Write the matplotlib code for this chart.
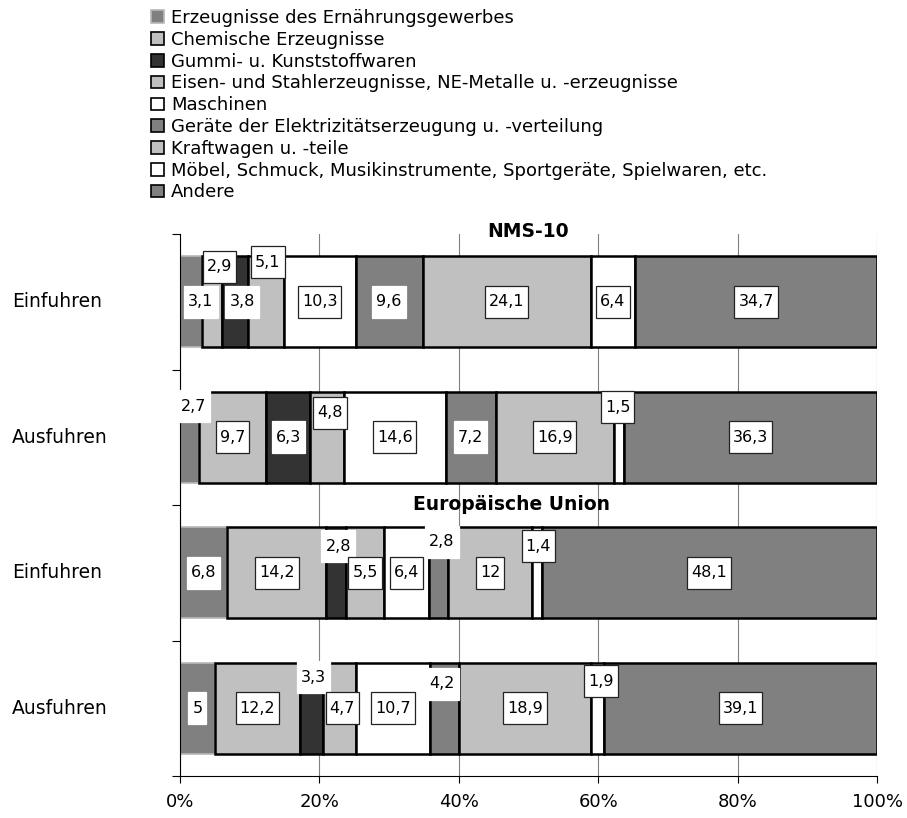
import matplotlib
matplotlib.use('Agg')
import matplotlib.pyplot as plt
import matplotlib.transforms as mtransforms
from matplotlib.patches import Patch, Rectangle
import numpy as np

# Series (product groups), shares in % per row
series_names = [
    'Erzeugnisse des Ernährungsgewerbes',
    'Chemische Erzeugnisse',
    'Gummi- u. Kunststoffwaren',
    'Eisen- und Stahlerzeugnisse, NE-Metalle u. -erzeugnisse',
    'Maschinen',
    'Geräte der Elektrizitätserzeugung u. -verteilung',
    'Kraftwagen u. -teile',
    'Möbel, Schmuck, Musikinstrumente, Sportgeräte, Spielwaren, etc.',
    'Andere',
]
row_labels = ['Einfuhren', 'Ausfuhren', 'Einfuhren', 'Ausfuhren']
group_titles = ['NMS-10', 'Europäische Union']

nms_ein = [3.1, 2.9, 3.8, 5.1, 10.3, 9.6, 24.1, 6.4, 34.7]
nms_aus = [2.7, 9.7, 6.3, 4.8, 14.6, 7.2, 16.9, 1.5, 36.3]
eu_ein = [6.8, 14.2, 2.8, 5.5, 6.4, 2.8, 12, 1.4, 48.1]
eu_aus = [5, 12.2, 3.3, 4.7, 10.7, 4.2, 18.9, 1.9, 39.1]
xticks = [0, 20, 40, 60, 80, 100]

# styling
fills = ['#808080', '#c0c0c0', '#333333', '#c0c0c0', '#ffffff',
         '#808080', '#c0c0c0', '#ffffff', '#808080']
edges = ['#b8b8b8'] + ['black'] * 8
boxed = [False, True, False, True, True, False, True, True, True]
# manual label nudges (dx in %, dy in rows) like in the original
label_nudge = {
    (0, 0): (1.45, 0), (0, 1): (1.15, -0.26), (0, 2): (1.0, 0), (0, 3): (0.25, -0.29),
    (1, 0): (0.55, -0.23), (1, 3): (0.4, -0.18), (1, 7): (-0.15, -0.22),
    (2, 2): (0.3, -0.195), (2, 5): (0.5, -0.23), (2, 7): (0.2, -0.195),
    (3, 2): (0.25, -0.23), (3, 3): (0.45, 0), (3, 5): (-0.4, -0.18), (3, 7): (0.45, -0.2),
}


def main():
    data = np.array([nms_ein, nms_aus, eu_ein, eu_aus])
    n_rows = data.shape[0]
    ys = np.arange(n_rows)

    fig = plt.figure(figsize=(9.07, 8.18), dpi=100)
    ax = fig.add_axes([180 / 907, 1 - 776 / 818, 697 / 907, 542 / 818])

    lefts = np.zeros(n_rows)
    for j in range(data.shape[1]):
        lw = 1.2 if j == 0 else 1.8
        ax.barh(ys, data[:, j], left=lefts, height=0.67, color=fills[j],
                edgecolor=edges[j], linewidth=lw, zorder=2)
        lefts += data[:, j]

    ax.set_xlim(0, 100)
    ax.set_ylim(n_rows - 0.5, -0.5)
    ax.set_xticks(xticks)
    ax.set_xticklabels([f'{t}%' for t in xticks], fontsize=13)
    ax.set_yticks(np.arange(-0.5, n_rows, 1.0))
    ax.set_yticklabels([])
    ax.tick_params(axis='x', length=5, width=0.8, pad=7)
    ax.tick_params(axis='y', length=6, width=0.8)
    ax.set_axisbelow(True)
    ax.xaxis.grid(True, color='#808080', linewidth=0.8)
    for s in ['top', 'right']:
        ax.spines[s].set_visible(False)
    ax.spines['left'].set_linewidth(0.8)
    ax.spines['bottom'].set_linewidth(0.8)

    # row labels at the far left
    trans = mtransforms.blended_transform_factory(fig.transFigure, ax.transData)
    for y, lab in zip(ys, row_labels):
        fig.text(12 / 907, y, lab, transform=trans, ha='left', va='center', fontsize=13.5)

    # group titles
    ax.text(50, -0.515, group_titles[0], ha='center', va='center', fontsize=13.5,
            fontweight='bold', clip_on=False, zorder=5)
    ax.text(47.5, 1.5, group_titles[1], ha='center', va='center', fontsize=13.5,
            fontweight='bold', zorder=5)

    # value labels
    texts = []
    starts = np.cumsum(data, axis=1) - data
    for i in range(n_rows):
        for j in range(data.shape[1]):
            v = data[i, j]
            dx, dy = label_nudge.get((i, j), (0, 0))
            x = starts[i, j] + v / 2 + dx
            t = ax.text(x, ys[i] + dy, f'{v:g}'.replace('.', ','), ha='center',
                        va='center', fontsize=11.5, zorder=6)
            texts.append((t, boxed[j]))

    fig.canvas.draw()
    r = fig.canvas.get_renderer()
    inv = ax.transData.inverted()
    for t, has_edge in texts:
        bb = t.get_window_extent(r)
        cx, cy = (bb.x0 + bb.x1) / 2, (bb.y0 + bb.y1) / 2
        w, h = bb.width + 8, 32
        (x0, y0), (x1, y1) = inv.transform([(cx - w / 2, cy - h / 2), (cx + w / 2, cy + h / 2)])
        ax.add_patch(Rectangle((x0, y0), x1 - x0, y1 - y0, facecolor='white',
                               edgecolor='#222222' if has_edge else 'white',
                               linewidth=0.9, zorder=4, clip_on=False))

    # legend
    handles = [Patch(facecolor=fills[j], edgecolor=edges[j] if j else '#b8b8b8',
                     linewidth=1.2) for j in range(len(series_names))]
    fig.legend(handles, series_names, loc='upper left',
               bbox_to_anchor=(151 / 907, 1 - 9 / 818), frameon=False,
               fontsize=13, labelspacing=0.21, handlelength=0.7, handleheight=0.7,
               handletextpad=0.4, borderpad=0, borderaxespad=0)

    fig.savefig('out.png', dpi=100)
    plt.close(fig)


if __name__ == '__main__':
    main()
